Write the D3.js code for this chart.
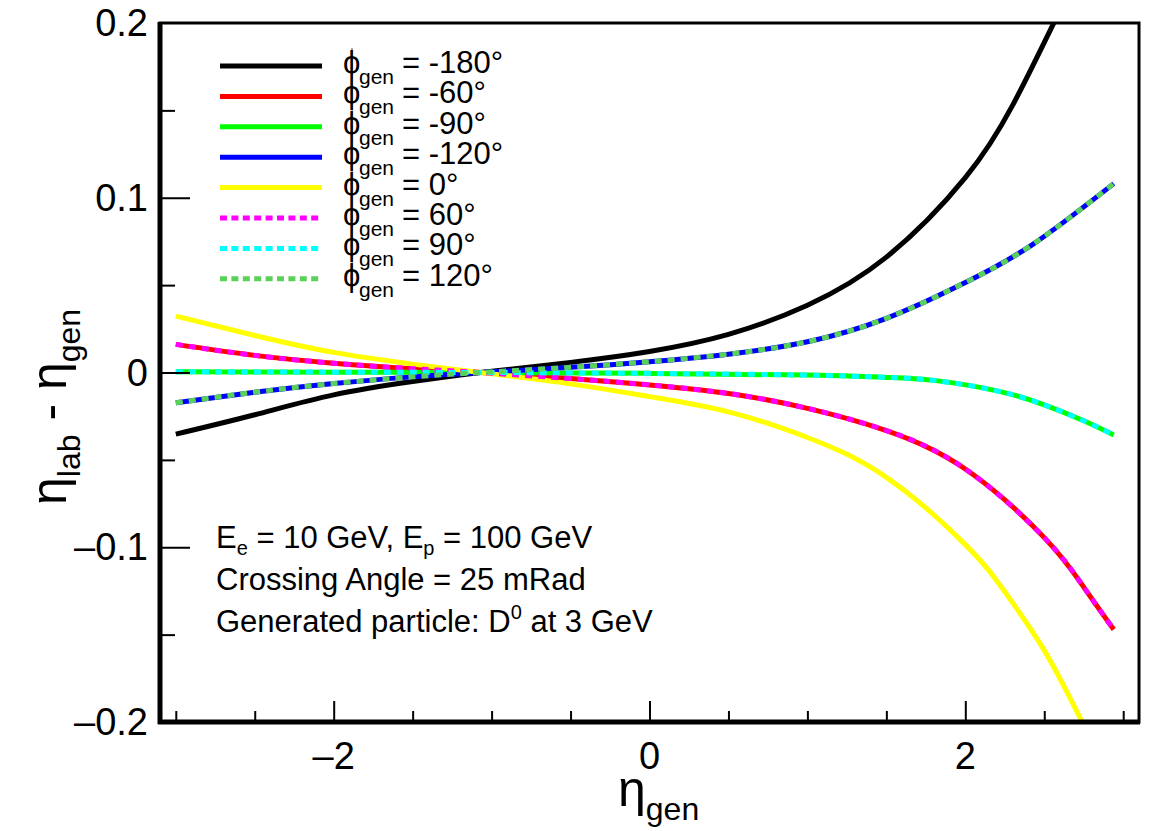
<!DOCTYPE html>
<html>
<head>
<meta charset="utf-8">
<script src="https://cdn.jsdelivr.net/npm/d3@7"></script>
<style>
  body { margin: 0; background: #fff; }
  svg { display: block; font-family: 'Liberation Sans', Arial, sans-serif; }
</style>
</head>
<body>
<div id="chart"></div>
<script>
// eta_gen vs (eta_lab - eta_gen)
var phiM180 = [[-3, -0.0353], [-2.5, -0.0242], [-2, -0.0128], [-1.5, -0.0052], [-1.07, 0], [-0.5, 0.0058], [0, 0.0120], [0.5, 0.0218], [1, 0.0385], [1.5, 0.0660], [2, 0.1115], [2.3, 0.1530], [2.56, 0.2000]];
var phiM60 = [[-3, 0.0161], [-2.5, 0.0098], [-2, 0.0053], [-1.5, 0.0022], [-1.07, 0], [-0.5, -0.0035], [0, -0.0071], [0.5, -0.0120], [1, -0.0205], [1.5, -0.0332], [2, -0.0552], [2.5, -0.0945], [2.75, -0.1228], [2.94, -0.1471]];
var phiM90 = [[-3, 0.0004], [-2, 0.0002], [-1.07, 0], [0, -0.0005], [1, -0.0015], [1.5, -0.0028], [1.8, -0.0045], [2.2, -0.0105], [2.5, -0.0185], [2.75, -0.0276], [2.94, -0.0357]];
var phiM120 = [[-3, -0.0173], [-2.5, -0.0113], [-2, -0.0063], [-1.5, -0.0025], [-1.07, 0], [-0.5, 0.0030], [0, 0.0062], [0.5, 0.0105], [1, 0.0176], [1.5, 0.0310], [2, 0.0515], [2.43, 0.0735], [2.94, 0.1081]];
var phi0 = [[-3, 0.0323], [-2.5, 0.0212], [-2, 0.0115], [-1.5, 0.0048], [-1.07, 0], [-0.5, -0.0065], [0, -0.0138], [0.5, -0.0225], [1, -0.0372], [1.5, -0.0600], [2, -0.0985], [2.25, -0.1255], [2.5, -0.1590], [2.74, -0.2000]];
// the positive angles lie exactly on top of the negative ones in the picture
var phi60 = phiM60;
var phi90 = phiM90;
var phi120 = phiM120;

var legendLabels = ["= -180°", "= -60°", "= -90°", "= -120°", "= 0°", "= 60°", "= 90°", "= 120°"];
var xTickLabels = ["–2", "0", "2"];
var yTickLabels = ["–0.2", "–0.1", "0", "0.1", "0.2"];
var infoLines = ["Crossing Angle = 25 mRad"];

var width = 1153, height = 831;

var svg = d3.select("#chart")
  .append("svg")
  .attr("width", width)
  .attr("height", height);

var x = d3.scaleLinear().domain([-3.1, 3.1]).range([160, 1139]);
var y = d3.scaleLinear().domain([-0.2, 0.2]).range([722, 23]);

// series: solid first, dashed on top
var series = [
  { data: phiM180, color: "#000000", dash: null },
  { data: phiM60, color: "#ff0000", dash: null },
  { data: phiM90, color: "#00ff00", dash: null },
  { data: phiM120, color: "#0000ff", dash: null },
  { data: phi0, color: "#ffff00", dash: null },
  { data: phi60, color: "#ff00ff", dash: "7,6" },
  { data: phi90, color: "#00ffff", dash: "7,6" },
  { data: phi120, color: "#5ad25a", dash: "7,6" }
];

svg.append("clipPath").attr("id", "plot")
  .append("rect")
  .attr("x", x(-3.1)).attr("y", y(0.2))
  .attr("width", x(3.1) - x(-3.1)).attr("height", y(-0.2) - y(0.2));

var line = d3.line()
  .x(function (d) { return x(d[0]); })
  .y(function (d) { return y(d[1]); })
  .curve(d3.curveNatural);

svg.append("g")
  .attr("clip-path", "url(#plot)")
  .selectAll("path")
  .data(series)
  .enter().append("path")
  .attr("d", function (d) { return line(d.data); })
  .attr("fill", "none")
  .attr("stroke", function (d) { return d.color; })
  .attr("stroke-width", 5)
  .attr("stroke-dasharray", function (d) { return d.dash; });

// frame
svg.append("rect")
  .attr("x", x(-3.1)).attr("y", y(0.2))
  .attr("width", x(3.1) - x(-3.1)).attr("height", y(-0.2) - y(0.2))
  .attr("fill", "none").attr("stroke", "#000").attr("stroke-width", 3);
svg.append("line").attr("x1", x(-3.1)).attr("x2", x(-3.1)).attr("y1", y(0.2) - 1).attr("y2", y(-0.2) + 2)
  .attr("stroke", "#000").attr("stroke-width", 5);
svg.append("line").attr("x1", x(-3.1) - 2).attr("x2", x(3.1) + 1).attr("y1", y(-0.2)).attr("y2", y(-0.2))
  .attr("stroke", "#000").attr("stroke-width", 5);

// x axis ticks (inside)
var xMinor = d3.range(-3, 3.01, 0.5).filter(function (v) { return Math.abs(v % 2) > 0.01; });
var xMajor = [-2, 0, 2];
svg.append("g").attr("transform", "translate(0," + (y(-0.2) - 2) + ")")
  .call(d3.axisTop(x).tickValues(xMinor).tickSize(9).tickFormat(""))
  .call(function (g) { g.select(".domain").remove(); g.selectAll("line").attr("stroke-width", 2); });
svg.append("g").attr("transform", "translate(0," + (y(-0.2) - 2) + ")")
  .call(d3.axisTop(x).tickValues(xMajor).tickSize(19).tickFormat(""))
  .call(function (g) { g.select(".domain").remove(); g.selectAll("line").attr("stroke-width", 2); });
svg.append("g").selectAll("text")
  .data(xMajor)
  .enter().append("text")
  .attr("x", function (d) { return x(d); })
  .attr("y", 769)
  .attr("text-anchor", "middle")
  .style("font-size", "38px")
  .text(function (d, i) { return xTickLabels[i]; });

// y axis ticks (inside)
var yMinor = [-0.15, -0.05, 0.05, 0.15];
var yMajor = [-0.2, -0.1, 0, 0.1, 0.2];
svg.append("g").attr("transform", "translate(" + (x(-3.1) + 2) + ",0)")
  .call(d3.axisRight(y).tickValues(yMinor).tickSize(13).tickFormat(""))
  .call(function (g) { g.select(".domain").remove(); g.selectAll("line").attr("stroke-width", 2); });
svg.append("g").attr("transform", "translate(" + (x(-3.1) + 2) + ",0)")
  .call(d3.axisRight(y).tickValues([-0.1, 0, 0.1]).tickSize(28).tickFormat(""))
  .call(function (g) { g.select(".domain").remove(); g.selectAll("line").attr("stroke-width", 2); });
svg.append("g").selectAll("text")
  .data(yMajor)
  .enter().append("text")
  .attr("x", 148)
  .attr("y", function (d) { return y(d) + 13; })
  .attr("text-anchor", "end")
  .style("font-size", "38px")
  .text(function (d, i) { return yTickLabels[i]; });

// axis titles
var xt = svg.append("text").attr("x", 618).attr("y", 806).style("font-size", "50px");
xt.append("tspan").text("η");
xt.append("tspan").attr("dy", 14).style("font-size", "32px").text("gen");

var yt = svg.append("text").attr("transform", "translate(66,505) rotate(-90)").style("font-size", "50px");
yt.append("tspan").text("η");
yt.append("tspan").attr("dy", 14).style("font-size", "32px").text("lab");
yt.append("tspan").attr("dy", -14).text(" - η");
yt.append("tspan").attr("dy", 14).style("font-size", "32px").text("gen");

// legend
var leg = svg.append("g");
leg.selectAll("line")
  .data(series)
  .enter().append("line")
  .attr("x1", 220).attr("x2", 322)
  .attr("y1", function (d, i) { return 66 + i * 30.4; })
  .attr("y2", function (d, i) { return 66 + i * 30.4; })
  .attr("stroke", function (d) { return d.color; })
  .attr("stroke-width", 5)
  .attr("stroke-dasharray", function (d) { return d.dash ? "7,4.4" : null; });
leg.append("line").attr("x1", 352).attr("x2", 352).attr("y1", 48).attr("y2", 290)
  .attr("stroke", "#555").attr("stroke-width", 1);
leg.selectAll("text.phi")
  .data(legendLabels)
  .enter().append("text").attr("class", "phi")
  .attr("x", 343).attr("y", function (d, i) { return 73 + i * 30.4; })
  .style("font-size", "31px").text("ϕ");
leg.selectAll("text.sub")
  .data(legendLabels)
  .enter().append("text").attr("class", "sub")
  .attr("x", 359).attr("y", function (d, i) { return 84 + i * 30.4; })
  .style("font-size", "21px").text("gen");
leg.selectAll("text.val")
  .data(legendLabels)
  .enter().append("text").attr("class", "val")
  .attr("x", 402).attr("y", function (d, i) { return 73 + i * 30.4; })
  .style("font-size", "31px").text(function (d) { return d; });

// info text
var t1 = svg.append("text").attr("x", 216).attr("y", 548).style("font-size", "31px");
t1.append("tspan").text("E");
t1.append("tspan").attr("dy", 7).style("font-size", "20px").text("e");
t1.append("tspan").attr("dy", -7).text(" = 10 GeV, E");
t1.append("tspan").attr("dy", 7).style("font-size", "20px").text("p");
t1.append("tspan").attr("dy", -7).text(" = 100 GeV");
svg.append("text").attr("x", 216).attr("y", 590).style("font-size", "31px").text(infoLines[0]);
var t3 = svg.append("text").attr("x", 216).attr("y", 632).style("font-size", "31px");
t3.append("tspan").text("Generated particle: D");
t3.append("tspan").attr("dy", -13).style("font-size", "20px").text("0");
t3.append("tspan").attr("dy", 13).text(" at 3 GeV");
</script>
</body>
</html>
